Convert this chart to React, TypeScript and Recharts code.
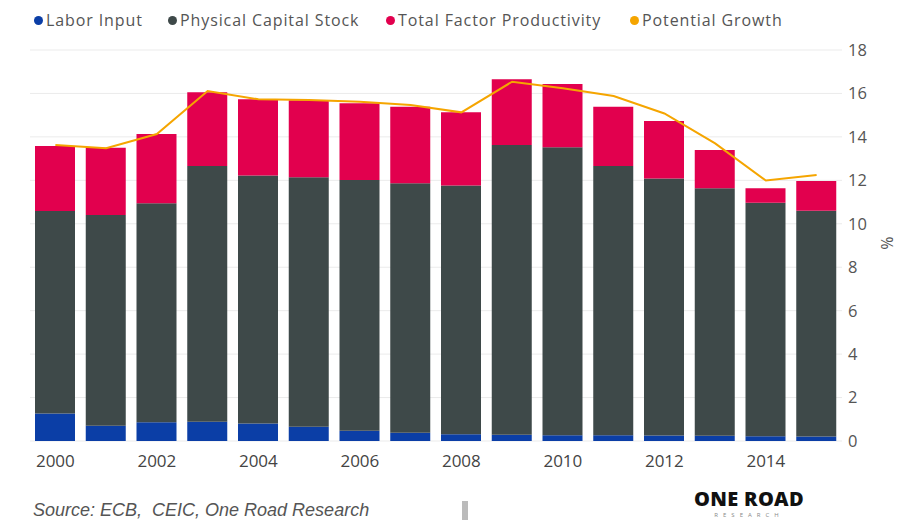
import React from 'react';
import { ComposedChart, Bar, Line, XAxis, YAxis, CartesianGrid } from 'recharts';

const years = ['2000','2001','2002','2003','2004','2005','2006','2007','2008','2009','2010','2011','2012','2013','2014','2015'];
const laborInput = [1.27,0.70,0.86,0.89,0.81,0.66,0.47,0.38,0.31,0.29,0.27,0.26,0.25,0.24,0.22,0.21];
const physicalCapital = [9.32,9.70,10.08,11.77,11.41,11.48,11.55,11.48,11.45,13.34,13.25,12.40,11.84,11.39,10.75,10.39];
const tfp = [2.99,3.10,3.19,3.39,3.51,3.55,3.53,3.53,3.37,3.02,2.92,2.73,2.64,1.77,0.66,1.37];
const potentialGrowth = [13.63,13.48,14.13,16.11,15.73,15.70,15.62,15.47,15.13,16.54,16.24,15.88,15.08,13.70,11.99,12.25];
const yTicks = [0,2,4,6,8,10,12,14,16,18];

const COLORS = {
  labor: '#0B3EA6',
  capital: '#3E4949',
  tfp: '#E2004E',
  potential: '#F5A500',
};

const legendItems = [
  { label: 'Labor Input', color: COLORS.labor, x: 34 },
  { label: 'Physical Capital Stock', color: COLORS.capital, x: 168 },
  { label: 'Total Factor Productivity', color: COLORS.tfp, x: 386 },
  { label: 'Potential Growth', color: COLORS.potential, x: 630 },
];

const data = years.map((y, i) => ({
  year: y,
  labor: laborInput[i],
  capital: physicalCapital[i],
  tfp: tfp[i],
  potential: potentialGrowth[i],
}));

const FONT = '"Open Sans", "Noto Sans", sans-serif';

export default function App() {
  return (
    <div style={{ position: 'absolute', left: 0, top: 0, width: 919, height: 524, background: '#fff', fontFamily: FONT, overflow: 'hidden' }}>
      {legendItems.map((it) => (
        <div key={it.label} style={{ position: 'absolute', left: it.x, top: 8, height: 24, display: 'flex', alignItems: 'center', fontSize: 16, color: '#555', letterSpacing: 0.9, whiteSpace: 'nowrap' }}>
          <span style={{ display: 'inline-block', width: 9, height: 9, borderRadius: '50%', background: it.color, marginRight: 3 }} />
          <span>{it.label}</span>
        </div>
      ))}
      <div style={{ position: 'absolute', left: 0, top: 0 }}>
        <ComposedChart
          width={919}
          height={475}
          data={data}
          margin={{ top: 50, right: 0, left: 30, bottom: 4 }}
          barSize={40}
        >
          <CartesianGrid vertical={false} stroke="#ebebeb" />
          <XAxis
            dataKey="year"
            axisLine={false}
            tickLine={false}
            interval={1}
            tickMargin={8}
            height={30}
            tick={{ fill: '#444', fontSize: 17, fontFamily: FONT }}
          />
          <YAxis
            orientation="right"
            domain={[0, 18]}
            ticks={yTicks}
            axisLine={false}
            tickLine={false}
            tickMargin={0}
            width={77}
            tick={{ fill: '#555', fontSize: 16.5, fontFamily: FONT, textAnchor: 'start' }}
          />
          <Bar dataKey="labor" stackId="a" fill={COLORS.labor} isAnimationActive={false} />
          <Bar dataKey="capital" stackId="a" fill={COLORS.capital} isAnimationActive={false} />
          <Bar dataKey="tfp" stackId="a" fill={COLORS.tfp} isAnimationActive={false} />
          <Line dataKey="potential" type="linear" stroke={COLORS.potential} strokeWidth={2} dot={false} isAnimationActive={false} />
        </ComposedChart>
      </div>
      <div style={{ position: 'absolute', left: 878, top: 232, width: 18, height: 22, lineHeight: '22px', textAlign: 'center', transform: 'rotate(90deg)', fontSize: 16, color: '#555' }}>%</div>
      <div style={{ position: 'absolute', left: 33, top: 500, fontSize: 18, fontStyle: 'italic', color: '#555', fontFamily: '"Liberation Sans", sans-serif', whiteSpace: 'nowrap' }}>
        Source: ECB,&nbsp; CEIC, One Road Research
      </div>
      <div style={{ position: 'absolute', left: 462, top: 501, width: 6, height: 19, background: '#bbb' }} />
      <div style={{ position: 'absolute', left: 686, top: 488, width: 126, textAlign: 'center', fontSize: 20, fontWeight: 800, color: '#111', letterSpacing: 0.3, lineHeight: '22px', whiteSpace: 'nowrap' }}>
        ONE ROAD
      </div>
      <div style={{ position: 'absolute', left: 690, top: 511, width: 118, textAlign: 'center', fontSize: 6, color: '#888', letterSpacing: 5, lineHeight: '8px' }}>
        RESEARCH
      </div>
    </div>
  );
}
